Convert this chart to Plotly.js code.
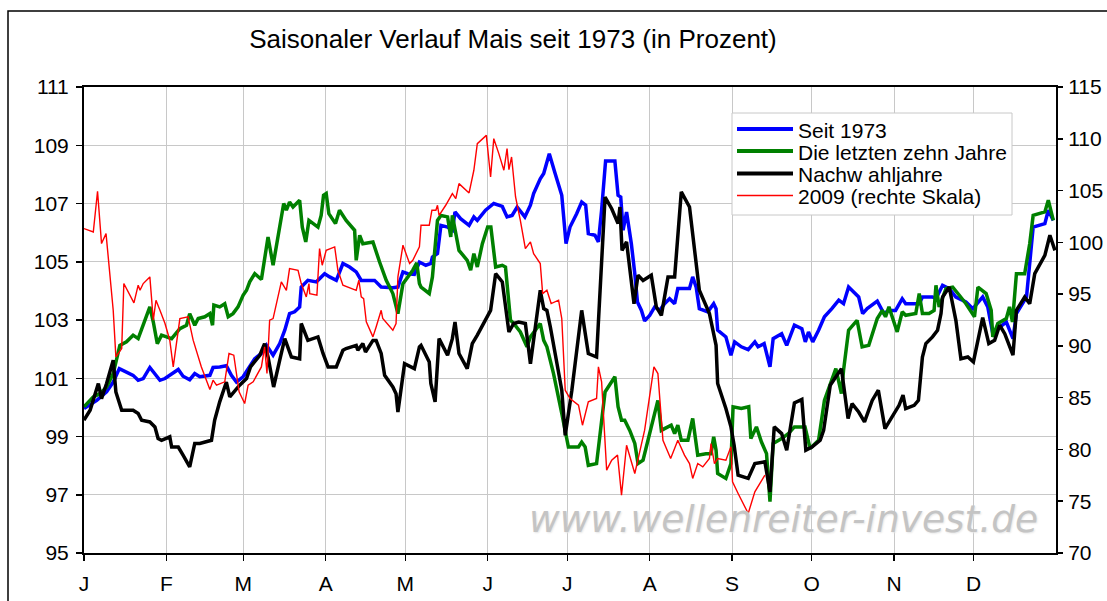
<!DOCTYPE html>
<html>
<head>
<meta charset="utf-8">
<script src="https://cdn.plot.ly/plotly-3.0.1.min.js"></script>
<style>html,body{margin:0;padding:0;background:#fff;}#chart{width:1107px;height:601px;}</style>
</head>
<body>
<div id="chart"></div>
<script>
// Month starts (day of year) and labels
const monthStarts = [0, 31, 60, 91, 121, 152, 182, 213, 244, 274, 305, 335];
const monthLabels = ['J', 'F', 'M', 'A', 'M', 'J', 'J', 'A', 'S', 'O', 'N', 'D'];
const leftTicks = [95, 97, 99, 101, 103, 105, 107, 109, 111];
const rightTicks = [70, 75, 80, 85, 90, 95, 100, 105, 110, 115];
const seriesNames = ['Seit 1973', 'Die letzten zehn Jahre', 'Nachw ahljahre', '2009 (rechte Skala)'];

// Seit 1973 (left scale)
const seitDays = [0,4.8,8.5,11.0,13.3,16.0,18.5,20.4,22.3,24.8,26.7,28.6,30.5,33.0,35.5,37.3,39.8,41.7,43.6,47.4,48.6,51.1,53.6,55.5,57.4,59.9,62.4,64.3,66.8,68.7,71.2,73.7,75.6,77.4,79.3,81.2,81.8,84.3,87.5,90.6,92.5,95.0,97.5,100.0,102.5,104.4,109.4,111.9,116.3,118.2,120.1,121.9,124.4,126.3,
128.7,130.6,131.2,133.1,134.4,136.9,138.7,139.7,141.8,145.0,146.8,148.1,151.2,154.3,157.5,159.3,161.2,163.1,166.0,168.1,169.3,171.8,173.1,175.2,177.4,179.9,181.5,183.0,185.5,187.4,188.9,189.9,192.4,193.7,194.9,196.4,199.9,201.1,202.1,203.0,204.3,206.1,207.4,208.4,209.9,211.1,213.0,214.9,216.8,218.6,220.5,222.4,223.6,226.1,228.0,229.2,230.5,231.7,234.9,237.1,238.0,238.6,241.7,243.6,
245.0,247.5,250.1,252.6,253.8,256.1,258.3,259.5,262.7,264.6,267.5,270.3,271.6,272.8,274.4,276.6,278.8,281.6,284.2,286.0,287.9,291.7,293.2,294.9,298.7,301.2,303.1,305.6,308.1,309.4,314.5,315.7,319.5,320.8,323.3,325.8,328.3,332.1,334.7,338.4,340.3,342.2,344.8,347.3,349.8,351.1,354.9,357.4,361.8,363.1,365.0];
const seitVals = [99.96,100.24,100.53,100.87,101.33,101.22,101.10,100.93,100.99,101.37,101.16,100.93,100.99,101.16,101.30,101.07,100.95,101.16,101.05,101.10,101.37,101.39,101.43,101.10,100.87,101.05,101.39,101.67,101.85,102.13,101.79,102.19,102.65,103.22,103.28,103.45,104.13,104.36,104.31,104.59,104.48,104.36,104.94,104.82,104.65,104.36,104.36,104.13,104.11,104.13,104.65,104.59,104.57,104.99,
104.88,104.94,105.16,105.28,106.25,106.19,106.08,106.71,106.48,106.25,106.54,106.42,106.77,107.0,106.90,106.54,106.59,106.88,106.54,106.94,107.34,107.85,108.03,108.71,108.03,107.28,105.62,106.19,106.65,107.05,106.94,105.97,105.91,105.68,106.77,108.46,108.46,107.28,107.22,106.08,106.71,105.62,104.59,103.62,103.33,102.97,103.16,103.45,103.33,103.56,103.73,103.56,104.08,104.08,104.08,104.48,104.13,103.39,103.28,103.56,103.39,102.65,102.42,101.79,
102.25,102.08,101.98,102.25,102.08,102.19,101.39,102.36,102.53,102.13,102.82,102.70,102.25,102.59,102.25,102.65,103.11,103.39,103.68,103.56,104.13,103.79,103.22,103.39,103.65,103.22,103.33,103.33,103.73,103.56,103.56,103.79,103.79,103.73,104.19,104.08,103.79,103.62,103.39,103.79,103.45,102.53,102.76,102.93,102.36,103.22,103.79,106.19,106.31,106.77,106.42];

// Die letzten zehn Jahre (left scale)
const zehnDays = [0,3.5,6.0,8.5,11.0,12.3,13.5,16.0,18.5,20.4,22.3,24.8,26.1,27.6,29.2,33.0,36.1,38.6,39.8,41.7,43.0,45.5,47.4,48.4,48.9,51.1,53.0,54.3,56.1,58.0,59.9,61.2,62.4,64.3,66.8,69.3,71.2,73.7,75.2,76.2,77.4,78.7,81.2,82.2,83.5,84.7,86.2,88.1,89.3,90.2,91.2,92.2,94.7,96.2,98.7,101.9,102.5,103.8,105.0,108.8,111.3,113.8,116.3,118.2,120.1,123.8,125.3,126.3,
126.9,130.0,131.2,133.1,134.4,136.9,138.1,138.7,141.2,144.3,145.6,146.8,148.1,150.0,152.0,153.2,155.0,157.5,158.7,160.6,161.8,164.3,166.8,168.1,171.8,173.1,174.3,176.8,179.9,182.4,186.2,187.4,188.7,189.9,193.0,194.3,196.2,199.9,201.1,202.4,203.6,205.5,207.4,208.6,210.5,216.1,217.4,218.6,221.1,222.4,223.6,224.9,227.4,229.2,231.1,234.2,236.1,237.1,238.0,238.6,241.7,243.6,
244.4,247.5,250.3,251.1,253.2,255.1,257.0,258.3,259.5,262.7,265.2,267.5,271.5,273.4,276.6,278.8,281.6,283.1,285.2,286.0,287.9,291.1,293.0,295.5,298.7,300.6,301.8,303.1,306.2,308.1,309.4,313.2,314.5,315.7,318.2,320.1,320.8,322.0,324.6,327.1,329.6,332.1,335.3,336.6,339.7,341.6,342.2,344.1,347.3,348.5,349.6,351.1,354.2,356.1,357.4,361.8,363.1,365.0];
const zehnVals = [100.02,100.36,100.47,100.70,101.16,101.73,102.13,102.25,102.48,102.36,102.82,103.45,102.93,102.19,102.48,102.36,102.70,102.82,103.22,102.82,103.05,103.11,103.22,102.82,103.51,103.45,103.56,103.11,103.22,103.45,103.85,104.02,104.31,104.59,104.39,105.85,104.88,106.31,107.0,106.77,107.05,106.88,107.11,106.19,105.68,106.42,106.31,106.19,106.59,107.28,107.34,106.65,106.31,106.77,106.42,106.08,105.05,105.91,105.62,105.68,104.99,104.36,103.91,103.22,104.25,104.71,104.96,104.25,
104.13,103.91,104.48,106.42,106.59,106.54,105.85,106.59,105.39,105.05,104.71,105.28,104.82,105.62,106.19,106.19,104.82,104.88,104.82,102.99,102.88,102.59,102.08,102.42,102.88,102.30,102.08,101.16,99.79,98.64,98.64,98.81,98.64,98.01,98.07,98.99,100.53,101.05,100.02,99.56,99.56,99.21,98.76,98.07,98.19,100.24,99.21,99.27,99.39,99.10,99.39,98.87,98.87,99.62,98.36,98.41,98.41,98.99,98.53,97.73,97.56,98.07,
100.02,99.96,100.02,98.93,99.33,98.81,98.41,96.76,98.76,98.93,99.10,99.33,99.33,98.59,98.87,100.24,100.93,101.33,100.47,101.27,102.65,102.99,102.08,102.13,103.05,103.33,103.11,103.45,102.59,103.28,103.16,103.22,103.91,103.22,103.22,103.33,104.19,103.45,104.08,104.13,103.85,103.56,103.11,104.13,103.91,103.33,102.42,102.88,103.05,103.45,102.93,104.59,104.59,105.62,106.59,106.71,107.11,106.42];

// Nachwahljahre (left scale)
const wahlDays = [0,2.3,5.4,6.6,8.5,11.0,12.0,14.2,18.5,20.4,21.7,24.8,26.7,27.9,29.2,32.3,33.0,35.5,37.3,39.8,41.7,43.6,48.0,49.2,51.1,53.6,54.9,56.8,58.6,61.2,62.7,66.2,68.0,69.3,71.4,73.7,75.6,78.1,81.2,81.8,84.3,88.1,90.0,91.9,95.0,97.5,98.7,102.5,103.1,105.0,106.0,108.8,110.0,111.9,113.2,116.3,117.5,118.2,120.7,124.4,126.3,
126.9,130.0,130.6,132.2,133.7,136.9,138.7,139.7,141.2,144.3,146.2,148.1,153.1,155.0,157.5,160.0,161.8,163.7,166.2,168.1,171.8,173.1,174.3,175.6,178.1,179.9,181.2,183.7,187.4,189.9,193.0,196.2,198.7,201.1,201.8,202.6,204.3,207.1,208.6,210.5,213.6,215.5,217.4,219.9,222.4,224.9,228.0,231.7,235.5,238.0,238.6,241.7,243.6,
244.8,246.3,250.1,252.6,256.4,258.3,259.9,262.7,264.6,267.5,270.3,271.8,274.1,277.2,278.5,281.0,285.2,287.7,289.2,291.7,293.9,296.8,299.1,301.6,304.4,306.9,308.4,309.4,312.6,314.2,315.7,317.0,319.5,321.4,322.7,323.3,325.8,328.3,330.2,332.8,334.9,338.4,340.7,342.9,344.8,346.7,349.8,351.1,354.2,356.1,358.0,361.8,363.7,365.6];
const wahlVals = [99.56,99.90,100.82,100.30,100.82,101.62,100.53,99.90,99.90,99.79,99.56,99.50,99.33,98.93,98.87,98.99,98.64,98.64,98.36,97.96,98.76,98.76,98.87,99.56,100.19,100.87,100.36,100.59,100.76,100.99,101.39,101.79,102.19,101.73,100.70,101.62,102.36,101.73,101.67,102.88,102.30,102.42,101.85,101.39,101.39,101.96,102.02,102.13,101.96,102.19,101.90,102.30,102.30,101.85,101.10,100.70,100.47,99.84,101.50,101.33,102.08,
102.13,101.56,100.82,100.19,102.36,101.79,102.36,102.93,101.85,101.33,102.19,102.48,103.33,104.59,104.31,102.59,102.88,102.93,102.88,101.50,104.02,103.39,103.33,102.76,101.50,100.59,99.04,100.59,103.33,101.85,101.73,107.22,106.82,106.31,106.88,105.39,105.68,103.56,104.54,104.36,104.54,103.45,103.16,104.48,104.48,107.40,106.88,104.02,103.22,102.13,100.82,99.96,99.33,
98.70,97.67,97.56,98.07,98.13,97.10,99.33,99.10,98.53,100.15,100.27,98.53,98.64,98.87,99.21,100.76,101.33,99.62,100.13,99.84,99.50,100.24,100.59,99.27,99.67,100.07,100.42,99.96,100.07,100.24,101.73,102.19,102.42,102.65,103.22,103.79,104.13,102.99,101.67,101.73,101.56,103.08,102.19,102.30,102.82,102.53,101.79,103.33,103.79,103.56,104.59,105.22,105.91,105.39];

// 2009 (right scale)
const y2009Days = [0,3.5,5.1,6.6,8.3,11.0,12.0,14.2,15.0,17.3,18.8,20.4,21.1,22.3,24.8,26.1,27.1,28.6,30.5,32.3,33.6,36.1,39.2,41.1,44.2,47.4,48.6,49.9,53.0,54.6,56.4,58.4,60.5,61.8,63.7,66.8,68.0,68.9,69.9,71.2,74.3,76.2,77.4,80.6,81.8,83.7,84.7,85.0,87.7,88.7,89.7,91.2,94.4,95.6,97.5,102.5,103.5,104.4,105.3,106.3,108.8,110.0,111.9,112.5,115.0,116.3,117.5,118.2,120.1,122.6,123.8,126.3,
126.9,130.0,131.0,132.5,133.1,133.7,136.2,138.7,140.0,141.2,145.0,146.8,148.1,151.5,153.1,154.3,156.2,158.1,159.3,160.0,161.0,162.5,164.3,166.2,168.1,169.3,171.8,172.7,174.3,175.9,178.7,179.9,181.2,183.0,186.2,187.7,189.9,193.0,193.7,194.9,196.8,198.7,200.9,202.4,204.3,206.1,207.4,211.1,214.6,216.1,218.0,220.9,223.6,226.1,228.0,229.2,231.1,233.0,235.5,236.1,237.4,238.6,241.7,243.6,244.2,
246.3,250.1,252.6,256.4];
const y2009Vals = [101.33,101.00,104.93,99.88,100.84,93.44,88.94,89.74,96.02,94.89,94.15,95.86,95.37,96.02,96.66,92.48,94.41,93.44,92.16,90.55,87.97,92.64,92.80,90.55,87.97,85.79,86.69,86.20,86.53,89.26,89.10,85.56,84.43,86.20,86.53,87.97,89.90,87.33,92.48,92.64,96.18,95.37,97.46,97.30,96.02,94.73,96.02,95.05,94.89,99.40,97.79,99.23,99.56,97.30,95.86,95.37,96.34,94.73,94.57,92.32,90.87,91.83,93.44,92.64,91.83,91.51,92.16,96.66,99.72,97.95,98.27,99.56,
101.65,101.65,103.10,103.10,103.58,102.61,103.58,104.70,104.22,105.67,104.77,106.96,109.53,110.33,106.31,110.01,108.57,106.96,109.05,107.02,108.24,104.38,102.13,99.40,100.04,98.91,97.95,95.05,95.37,94.09,94.41,92.64,85.72,84.92,84.27,82.34,84.60,84.92,87.97,86.53,78.00,78.96,79.45,75.59,80.41,78.96,77.68,81.86,87.97,87.33,80.89,79.12,80.89,79.45,78.64,77.20,78.64,78.32,79.12,80.57,78.64,79.12,78.96,80.25,76.87,
75.75,73.82,75.91,77.52];

const FONT = 'Liberation Sans, Arial, sans-serif';
const colors = ['#0000ff', '#008000', '#000000', '#ff0000'];
const widths = [3.5, 3.5, 3.5, 1.4];

const traces = [
  {x: seitDays, y: seitVals, name: seriesNames[0], type: 'scatter', mode: 'lines', line: {color: colors[0], width: widths[0]}},
  {x: zehnDays, y: zehnVals, name: seriesNames[1], type: 'scatter', mode: 'lines', line: {color: colors[1], width: widths[1]}},
  {x: wahlDays, y: wahlVals, name: seriesNames[2], type: 'scatter', mode: 'lines', line: {color: colors[2], width: widths[2]}},
  {x: y2009Days, y: y2009Vals, name: seriesNames[3], type: 'scatter', mode: 'lines', yaxis: 'y2', line: {color: colors[3], width: widths[3]}}
];

// pixel -> paper helpers (plot area 84..1056 x, 87..553 y)
const px = v => (v - 84) / 972;
const py = v => (553 - v) / 466;

// Custom legend (compact rows like the original)
const legendShapes = [
  {type: 'rect', xref: 'paper', yref: 'paper', x0: px(732), x1: px(1012), y0: py(215), y1: py(113),
   line: {color: '#c8c8c8', width: 1}, fillcolor: '#ffffff', layer: 'above'}
];
const legendAnn = [];
const rowY = [129, 151, 173.5, 195.5];
seriesNames.forEach((nm, i) => {
  legendShapes.push({type: 'line', xref: 'paper', yref: 'paper', x0: px(737), x1: px(793), y0: py(rowY[i]), y1: py(rowY[i]),
    line: {color: colors[i], width: widths[i] === 3.5 ? 4 : 1.5}, layer: 'above'});
  legendAnn.push({text: nm, xref: 'paper', yref: 'paper', x: px(796), xanchor: 'left', y: py(rowY[i] + 1), yanchor: 'middle',
    showarrow: false, font: {family: FONT, size: 21, color: '#000'}});
});

const layout = {
  width: 1107, height: 601,
  margin: {l: 84, r: 51, t: 87, b: 48, pad: 0},
  paper_bgcolor: '#ffffff', plot_bgcolor: '#ffffff',
  font: {family: FONT, color: '#000'},
  showlegend: false,
  hovermode: false,
  title: {
    text: 'Saisonaler Verlauf Mais seit 1973 (in Prozent)',
    font: {family: FONT, size: 26, color: '#000'},
    xref: 'container', yref: 'container',
    x: 513 / 1107, xanchor: 'center',
    y: 1 - 39 / 601, yanchor: 'middle'
  },
  xaxis: {
    range: [0, 366], tickmode: 'array', tickvals: monthStarts, ticktext: monthLabels,
    showgrid: true, gridcolor: '#c8c8c8', gridwidth: 1,
    ticks: 'outside', ticklen: 6, tickwidth: 1.5, tickcolor: '#000',
    showline: true, linecolor: '#000', linewidth: 2, mirror: true,
    zeroline: false, tickfont: {family: FONT, size: 21, color: '#000'},
    ticklabelstandoff: 5, fixedrange: true
  },
  yaxis: {
    range: [95, 111], tickmode: 'array', tickvals: leftTicks,
    showgrid: true, gridcolor: '#c8c8c8', gridwidth: 1,
    ticks: 'outside', ticklen: 6, tickwidth: 1.5, tickcolor: '#000',
    showline: true, linecolor: '#000', linewidth: 2,
    zeroline: false, tickfont: {family: FONT, size: 21, color: '#000'},
    ticklabelstandoff: 3, fixedrange: true
  },
  yaxis2: {
    range: [70, 115], tickmode: 'array', tickvals: rightTicks,
    overlaying: 'y', side: 'right', showgrid: false,
    ticks: 'outside', ticklen: 5, tickwidth: 1.5, tickcolor: '#000',
    showline: true, linecolor: '#000', linewidth: 2,
    zeroline: false, tickfont: {family: FONT, size: 21, color: '#000'},
    ticklabelstandoff: 1, fixedrange: true
  },
  shapes: [
    {type: 'rect', xref: 'paper', yref: 'paper', x0: px(8), x1: 1.3, y0: -0.4, y1: py(11),
     line: {color: '#000', width: 1.5}, fillcolor: 'rgba(0,0,0,0)', layer: 'above'}
  ].concat(legendShapes),
  annotations: [
    {text: 'www.wellenreiter-invest.de', xref: 'paper', yref: 'paper',
     x: px(527), xanchor: 'left', y: py(519), yanchor: 'middle',
     showarrow: false,
     font: {family: 'DejaVu Sans, Verdana, sans-serif', size: 37.5, color: '#c4c4c4', style: 'italic', shadow: '1px 1px 2px #e6e6e6'}}
  ].concat(legendAnn)
};

Plotly.newPlot('chart', traces, layout, {displayModeBar: false, staticPlot: true});
</script>
</body>
</html>
